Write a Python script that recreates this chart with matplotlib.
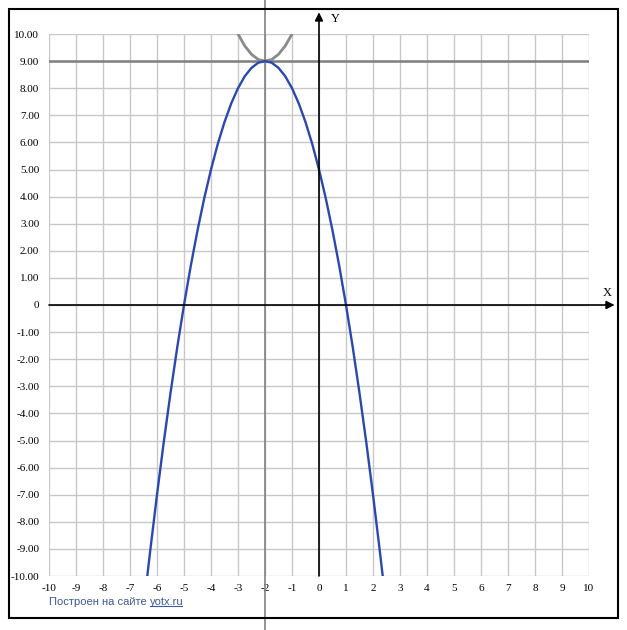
import matplotlib
matplotlib.use('Agg')
import matplotlib.pyplot as plt
from matplotlib.patches import Rectangle
from matplotlib.lines import Line2D

# curve
x_blue = [-6.36, -6.25, -6.0, -5.75, -5.5, -5.25, -5.0, -4.75, -4.5, -4.25, -4.0,
          -3.75, -3.5, -3.25, -3.0, -2.75, -2.5, -2.25, -2.0, -1.75, -1.5, -1.25,
          -1.0, -0.75, -0.5, -0.25, 0.0, 0.25, 0.5, 0.75, 1.0, 1.25, 1.5, 1.75,
          2.0, 2.25, 2.36]
y_blue = [-10.0, -9.06, -7.0, -5.06, -3.25, -1.56, 0.0, 1.44, 2.75, 3.94, 5.0,
          5.94, 6.75, 7.44, 8.0, 8.44, 8.75, 8.94, 9.0, 8.94, 8.75, 8.44,
          8.0, 7.44, 6.75, 5.94, 5.0, 3.94, 2.75, 1.44, 0.0, -1.56, -3.25, -5.06,
          -7.0, -9.06, -10.0]
x_gray = [-3.0, -2.75, -2.5, -2.25, -2.0, -1.75, -1.5, -1.25, -1.0]
y_gray = [10.0, 9.56, 9.25, 9.06, 9.0, 9.06, 9.25, 9.56, 10.0]
h_line = 9.0
v_line = -2.0

x_ticks = list(range(-10, 11))
y_ticks = list(range(-10, 11))
y_labels = ['0' if v == 0 else '%.2f' % v for v in y_ticks]

fig = plt.figure(figsize=(6.27, 6.30), dpi=100)
ax = fig.add_axes([49/627, 54/630, 540/627, 542/630])
ax.set_xlim(-10, 10)
ax.set_ylim(-10, 10)
ax.set_xticks(x_ticks)
ax.set_yticks(y_ticks)
ax.set_xticklabels([str(v) for v in x_ticks], family='Liberation Serif', fontsize=8)
ax.set_yticklabels(y_labels, family='Liberation Serif', fontsize=8)
ax.tick_params(length=0, pad=7)
ax.tick_params(axis='x', pad=6)
for s in ax.spines.values():
    s.set_visible(False)
ax.grid(True, color='#c8c8c8', lw=1)
ax.set_axisbelow(True)

# axes with arrows
ax.annotate('', xy=(10.95, 0), xytext=(-10, 0), annotation_clip=False,
            arrowprops=dict(arrowstyle='-|>', color='black', lw=1.2,
                            mutation_scale=12, shrinkA=0, shrinkB=0))
ax.annotate('', xy=(0, 1.04), xytext=(0, 0), xycoords=('data', 'axes fraction'),
            textcoords=('data', 'axes fraction'), annotation_clip=False,
            arrowprops=dict(arrowstyle='-|>', color='black', lw=1.2,
                            mutation_scale=12, shrinkA=0, shrinkB=0))
ax.text(0.45, 10.45, 'Y', family='Liberation Serif', fontsize=9, clip_on=False)
ax.text(10.5, 0.35, 'X', family='Liberation Serif', fontsize=9, clip_on=False)

ax.axhline(h_line, color='#808080', lw=1.8)
ax.axvline(v_line, color='#808080', lw=1.2, ymin=-0.1, ymax=1.07, clip_on=False)
ax.plot(x_gray, y_gray, color='#8a8a8a', lw=2)
ax.plot(x_blue, y_blue, color='#2a48b0', lw=1.7)

fig.patches.append(Rectangle((9/627, 12/630), 609/627, 609/630, transform=fig.transFigure,
                             fill=False, edgecolor='black', lw=1.5))

t1 = fig.text(49/627, 28/630, 'Построен на сайте ', family='Liberation Sans',
              fontsize=8, color='#3b5a9a', va='center')
fig.canvas.draw()
bb = t1.get_window_extent()
t2 = fig.text(bb.x1/627, 28/630, 'yotx.ru', family='Liberation Sans',
              fontsize=8, color='#3b5a9a', va='center')
fig.canvas.draw()
bb2 = t2.get_window_extent()
fig.lines.append(Line2D([bb2.x0/627, (bb2.x1 - 2)/627], [(bb2.y0 + 1)/630] * 2,
                        transform=fig.transFigure, color='#3b5a9a', lw=0.8))

fig.savefig('out.png', dpi=100)
